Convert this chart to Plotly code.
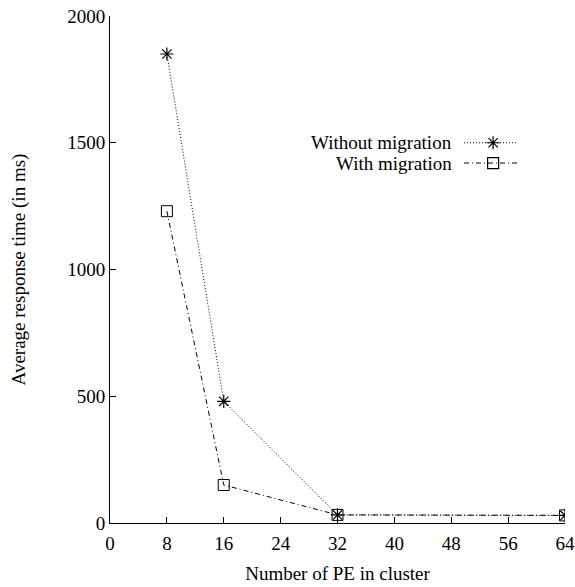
import plotly.graph_objects as go

pe = [8, 16, 32, 64]
without_migration = [1850, 480, 32, 30]
with_migration = [1230, 150, 32, 30]
series_names = ["Without migration", "With migration"]
x_ticks = [0, 8, 16, 24, 32, 40, 48, 56, 64]
y_ticks = [0, 500, 1000, 1500, 2000]

font = dict(family="Liberation Serif, Times New Roman, serif", size=19, color="black")
dot_style = "1px,2px"
dashdot_style = "5px,3px,1px,3px"

fig = go.Figure()
fig.add_trace(go.Scatter(x=pe, y=without_migration, mode="lines+markers",
                         line=dict(color="black", width=1, dash=dot_style),
                         marker=dict(symbol="asterisk-open", size=11, color="black",
                                     line=dict(color="black", width=1.2)),
                         showlegend=False))
fig.add_trace(go.Scatter(x=pe, y=with_migration, mode="lines+markers",
                         line=dict(color="black", width=1, dash=dashdot_style),
                         marker=dict(symbol="square-open", size=11, color="black",
                                     line=dict(color="black", width=1)),
                         showlegend=False))

# custom legend (text on left, sample on right) in hidden overlay axes
leg_y = [0.750, 0.710]
styles = [(dot_style, "asterisk-open"), (dashdot_style, "square-open")]
for name, yy, (dash, sym) in zip(series_names, leg_y, styles):
    fig.add_trace(go.Scatter(x=[0.778, 0.842, 0.897], y=[yy, yy, yy], xaxis="x2", yaxis="y2",
                             mode="lines", line=dict(color="black", width=1, dash=dash),
                             showlegend=False, hoverinfo="skip"))
    fig.add_trace(go.Scatter(x=[0.842], y=[yy], xaxis="x2", yaxis="y2", mode="markers",
                             marker=dict(symbol=sym, size=11, color="black",
                                         line=dict(color="black", width=1.2)),
                             showlegend=False, hoverinfo="skip"))
    fig.add_annotation(x=0.757, y=yy, xref="x2 domain", yref="y2 domain", text=name,
                       showarrow=False, xanchor="right", yanchor="middle", font=font)

fig.update_layout(
    width=575, height=587,
    margin=dict(l=110, r=10, t=16, b=64),
    paper_bgcolor="white", plot_bgcolor="white",
    font=font,
    showlegend=False,
    xaxis=dict(range=[0, 64], tickvals=x_ticks, ticks="inside", ticklen=6,
               showline=True, linecolor="black", linewidth=1, showgrid=False,
               zeroline=False, tickcolor="black", automargin=False,
               ticklabelstandoff=3,
               title=dict(text="Number of PE in cluster", font=font, standoff=13)),
    yaxis=dict(range=[0, 2000], tickvals=y_ticks, ticks="inside", ticklen=6,
               showline=True, linecolor="black", linewidth=1, showgrid=False,
               zeroline=False, tickcolor="black", automargin=False,
               title=dict(text="Average response time (in ms)", font=font, standoff=36)),
    xaxis2=dict(range=[0, 1], overlaying="x", visible=False),
    yaxis2=dict(range=[0, 1], overlaying="y", visible=False),
)

fig.write_html("out.html")
